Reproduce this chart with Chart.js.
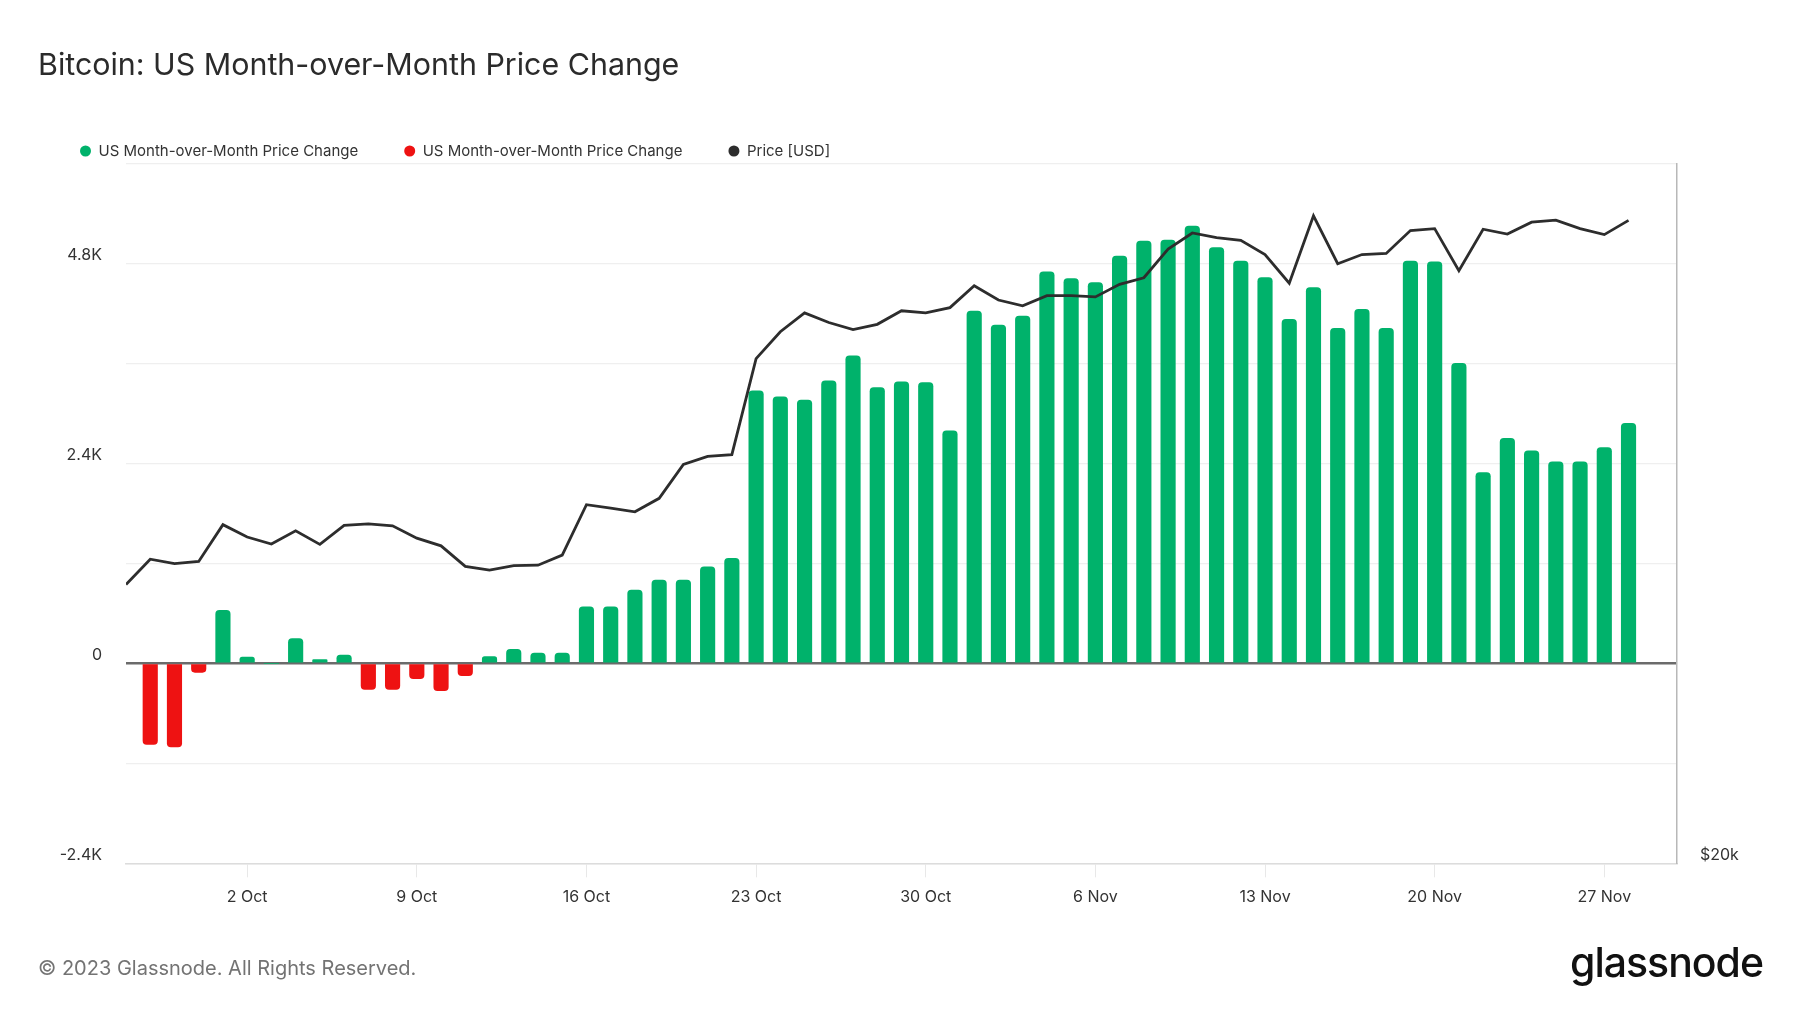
<!DOCTYPE html>
<html>
<head>
<meta charset="utf-8">
<script src="https://cdn.jsdelivr.net/npm/chart.js@4.4.0/dist/chart.umd.min.js"></script>
<style>
  html, body { margin: 0; padding: 0; background: #fff; }
  body { width: 1800px; height: 1013px; position: relative; overflow: hidden; font-family: Inter, "Noto Sans", sans-serif; }
  #title { position: absolute; left: 38px; top: 47px; font-size: 30.4px; line-height: 34px; color: #2b2b2b; }
  #footer { position: absolute; left: 38px; top: 955px; font-size: 20px; line-height: 26px; color: #737373; }
  #logo { position: absolute; left: 1570px; top: 938px; font-size: 41px; line-height: 48px; font-weight: 500; color: #111; letter-spacing: -1px; }
  #wrap { position: absolute; left: 0; top: 0; width: 1800px; height: 1013px; }
</style>
</head>
<body>
<div id="wrap"><canvas id="grafico"></canvas></div>
<div id="title">Bitcoin: US Month-over-Month Price Change</div>
<div id="footer">© 2023 Glassnode. All Rights Reserved.</div>
<div id="logo">glassnode</div>
<script>
// daily values, 27 Sep 2023 .. 28 Nov 2023
const dates = [
  '2023-09-27', '2023-09-28', '2023-09-29', '2023-09-30',
  '2023-10-01', '2023-10-02', '2023-10-03', '2023-10-04', '2023-10-05', '2023-10-06', '2023-10-07',
  '2023-10-08', '2023-10-09', '2023-10-10', '2023-10-11', '2023-10-12', '2023-10-13', '2023-10-14',
  '2023-10-15', '2023-10-16', '2023-10-17', '2023-10-18', '2023-10-19', '2023-10-20', '2023-10-21',
  '2023-10-22', '2023-10-23', '2023-10-24', '2023-10-25', '2023-10-26', '2023-10-27', '2023-10-28',
  '2023-10-29', '2023-10-30', '2023-10-31',
  '2023-11-01', '2023-11-02', '2023-11-03', '2023-11-04', '2023-11-05', '2023-11-06', '2023-11-07',
  '2023-11-08', '2023-11-09', '2023-11-10', '2023-11-11', '2023-11-12', '2023-11-13', '2023-11-14',
  '2023-11-15', '2023-11-16', '2023-11-17', '2023-11-18', '2023-11-19', '2023-11-20', '2023-11-21',
  '2023-11-22', '2023-11-23', '2023-11-24', '2023-11-25', '2023-11-26', '2023-11-27', '2023-11-28'
];

const momChange = [
  null, -972, -1004, -108,
  636, 76, 0, 296, 44, 100, -312,
  -312, -184, -328, -148, 80, 168, 124,
  124, 678, 678, 880, 1000, 1000, 1160,
  1260, 3270, 3200, 3160, 3390, 3690, 3310,
  3380, 3370, 2790,
  4230, 4060, 4170, 4700, 4620, 4570, 4890,
  5070, 5080, 5250, 4990, 4830, 4630, 4130,
  4510, 4020, 4250, 4020, 4830, 4820, 3600,
  2290, 2700, 2550, 2420, 2420, 2590, 2880
];

const priceUsd = [
  26360, 27030, 26910, 26970,
  27970, 27630, 27440, 27800, 27430, 27950, 27990,
  27940, 27600, 27390, 26840, 26740, 26860, 26870,
  27140, 28530, 28430, 28330, 28710, 29690, 29930,
  29980, 32970, 33860, 34500, 34170, 33930, 34110,
  34570, 34500, 34680,
  35440, 34940, 34740, 35090, 35090, 35050, 35490,
  35720, 36750, 37340, 37170, 37070, 36550, 35530,
  37980, 36220, 36550, 36590, 37430, 37500, 35970,
  37480, 37300, 37740, 37820, 37500, 37280, 37810
];

const tickDates = ['2023-10-02', '2023-10-09', '2023-10-16', '2023-10-23', '2023-10-30',
  '2023-11-06', '2023-11-13', '2023-11-20', '2023-11-27'];
const tickLabels = ['2 Oct', '9 Oct', '16 Oct', '23 Oct', '30 Oct', '6 Nov', '13 Nov', '20 Nov', '27 Nov'];

const axisStart = '2023-09-27';
const axisEnd = '2023-11-30';

const dia = (d) => (Date.parse(d + 'T00:00:00Z') - Date.parse(axisStart + 'T00:00:00Z')) / 86400000;
const tickDias = tickDates.map(dia);

const verde = '#00b26b';
const vermelho = '#ee1212';
const preto = '#2d2d2d';
const fonte = 'Inter, "Noto Sans", sans-serif';

const positivos = dates.map((d, i) => ({x: dia(d), y: momChange[i] !== null && momChange[i] >= 0 ? momChange[i] : null}));
const negativos = dates.map((d, i) => ({x: dia(d), y: momChange[i] !== null && momChange[i] < 0 ? momChange[i] : null}));
const precos = dates.map((d, i) => ({x: dia(d), y: priceUsd[i]}));

const ctx = document.getElementById('grafico').getContext('2d');
const grafico = new Chart(ctx, {
  type: 'bar',
  data: {
    datasets: [
      {
        label: 'US Month-over-Month Price Change',
        data: positivos,
        backgroundColor: verde,
        borderWidth: 0,
        borderRadius: 4,
        barThickness: 14.5,
        grouped: false,
        order: 1,
        yAxisID: 'y'
      },
      {
        label: 'US Month-over-Month Price Change',
        data: negativos,
        backgroundColor: vermelho,
        borderWidth: 0,
        borderRadius: 4,
        barThickness: 14.5,
        grouped: false,
        order: 1,
        yAxisID: 'y'
      },
      {
        type: 'line',
        label: 'Price [USD]',
        data: precos,
        borderColor: preto,
        backgroundColor: preto,
        borderWidth: 2.8,
        pointRadius: 0,
        tension: 0,
        fill: false,
        order: 0,
        yAxisID: 'y2'
      }
    ]
  },
  options: {
    responsive: true,
    maintainAspectRatio: false,
    animation: false,
    layout: { padding: { top: 97.5, left: 34, right: 0, bottom: 96.5 } },
    plugins: {
      tooltip: { enabled: false },
      legend: {
        position: 'top',
        align: 'start',
        maxHeight: 66,
        labels: {
          usePointStyle: true,
          pointStyle: 'circle',
          pointStyleWidth: 11,
          boxHeight: 7.8,
          padding: 46,
          color: '#333',
          font: { family: fonte, size: 15 },
          generateLabels: (chart) => Chart.defaults.plugins.legend.labels.generateLabels(chart)
            .map(item => Object.assign(item, { lineWidth: 0 })),
          sort: (a, b) => a.datasetIndex - b.datasetIndex
        }
      }
    },
    scales: {
      x: {
        type: 'linear',
        offset: false,
        min: 0,
        max: dia(axisEnd),
        afterBuildTicks: (axis) => { axis.ticks = tickDias.map(v => ({value: v})); },
        ticks: {
          autoSkip: false,
          maxRotation: 0,
          padding: 10,
          color: '#333',
          font: { family: fonte, size: 16 },
          callback: (v) => tickLabels[tickDias.indexOf(v)]
        },
        grid: { offset: false, drawOnChartArea: false, drawTicks: true, tickLength: 14, color: '#e8e8e8' },
        border: { display: true, color: '#dcdcdc', width: 1.5 }
      },
      y: {
        position: 'left',
        min: -2400,
        max: 6000,
        afterFit: (axis) => { axis.width = 92; },
        ticks: {
          stepSize: 1200,
          padding: 24,
          labelOffset: -8,
          color: '#333',
          font: { family: fonte, size: 16 },
          callback: (v) => v % 2400 !== 0 ? '' : (v === 0 ? '0' : (v / 1000).toFixed(1) + 'K')
        },
        grid: {
          drawTicks: false,
          color: (c) => c.tick && c.tick.value === 0 ? '#6b6b6b' : '#efefef',
          lineWidth: (c) => c.tick && c.tick.value === 0 ? 2.6 : 1.2
        },
        border: { display: false }
      },
      y2: {
        type: 'logarithmic',
        position: 'right',
        min: 20000,
        max: 40000,
        afterFit: (axis) => { axis.width = 123; },
        afterBuildTicks: (axis) => { axis.ticks = [{value: 20000}]; },
        ticks: {
          padding: 23,
          labelOffset: -8,
          color: '#333',
          font: { family: fonte, size: 16 },
          callback: (v) => '$' + (v / 1000) + 'k'
        },
        grid: { drawOnChartArea: false, drawTicks: false },
        border: { display: true, color: '#b8b8b8', width: 1.5 }
      }
    }
  }
});
</script>
</body>
</html>
